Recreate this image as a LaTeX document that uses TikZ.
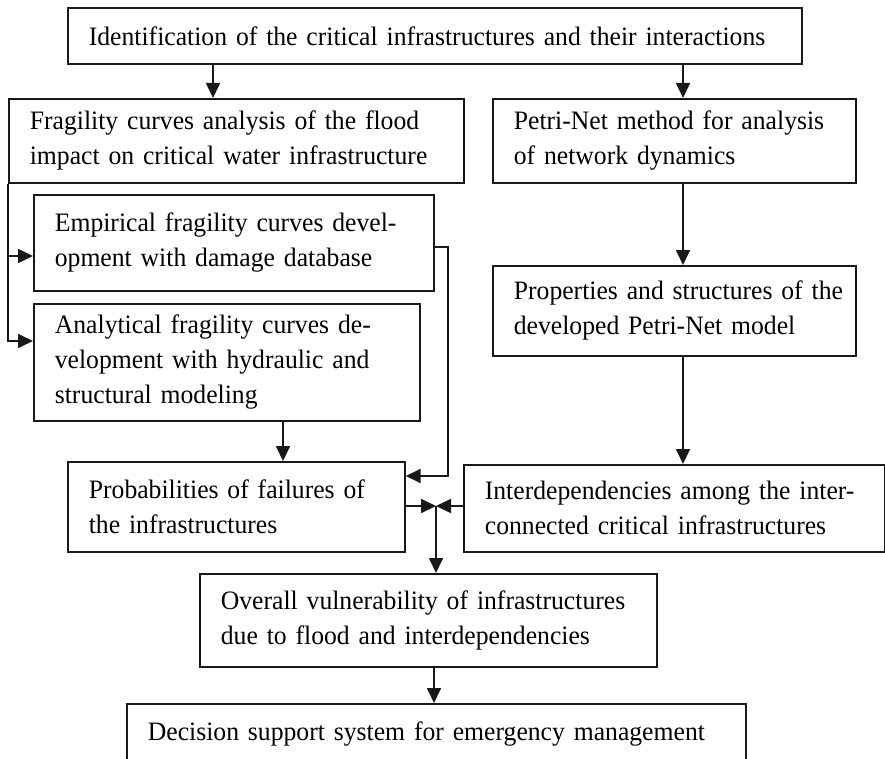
\documentclass[tikz,border=0pt]{standalone}
\usepackage{fontspec}
\setmainfont[FakeStretch=0.965]{Liberation Serif}
\usepackage{tikz}
\usetikzlibrary{
  positioning,
  arrows.meta
}
% full-width justified line
\newcommand{\jl}[1]{\makebox[\linewidth][s]{#1}}

\begin{document}
\begin{tikzpicture}[
  x=1pt, y=-1pt,
  font=\fontsize{26.6pt}{35pt}\selectfont,
  >={Triangle[length=15pt,width=14pt]},
  blk/.style={
    draw=black!90,
    line width=1.7pt,
    anchor=north west,
    align=left,
    inner xsep=21pt,
    inner ysep=2pt
  },
  arr/.style={->, line width=1.7pt, black!90},
  wire/.style={line width=1.7pt, black!90},
]
  \useasboundingbox (0,0) rectangle (885,759);

  % ========== boxes ==========
  \node[blk, text width=692pt, minimum height=56pt] (ident) at (67,7)
    {Identification of the critical infrastructures and their interactions};
  \node[blk, text width=413pt, minimum height=84pt] (frag) at (8,98)
    {Fragility curves analysis of the flood\\impact on critical water infrastructure};
  \node[blk, text width=321pt, minimum height=84pt] (petri) at (492,98)
    {\jl{Petri-Net method for analysis}\\of network dynamics};
  \node[blk, text width=358pt, minimum height=96pt] (emp) at (33,194)
    {\jl{Empirical fragility curves devel-}\\opment with damage database};
  \node[blk, text width=344pt, minimum height=117pt] (ana) at (33,303)
    {\jl{Analytical fragility curves de-}\\\jl{velopment with hydraulic and}\\structural modeling};
  \node[blk, text width=321pt, minimum height=90pt] (prop) at (492,265)
    {\jl{Properties and structures of the}\\developed Petri-Net model};
  \node[blk, text width=295pt, minimum height=90pt] (prob) at (67,461)
    {\jl{Probabilities of failures of}\\the infrastructures};
  \node[blk, text width=379pt, minimum height=87pt] (inter) at (463,464)
    {\jl{Interdependencies among the inter-}\\connected critical infrastructures};
  \node[blk, text width=415pt, minimum height=93pt] (over) at (199,573)
    {Overall vulnerability of infrastructures\\due to flood and interdependencies};
  \node[blk, text width=577pt, minimum height=60pt] (dec) at (126,703)
    {Decision support system for emergency management};

  % ========== columns ==========
  \coordinate (Ax) at (213,0);  % ident -> frag
  \coordinate (Rx) at (683,0);  % right column
  \draw[arr] (ident.south-|Ax) -- (frag.north-|Ax);
  \draw[arr] (ident.south-|Rx) -- (petri.north-|Rx);
  \draw[arr] (petri.south-|Rx) -- (prop.north-|Rx);
  \draw[arr] (prop.south-|Rx) -- (inter.north-|Rx);

  % ========== left bus: frag -> emp, ana ==========
  \coordinate (Ley) at (0,256);
  \coordinate (Lay) at (0,341);
  \draw[arr] (frag.south west) |- (ana.west|-Lay);
  \draw[arr] (frag.south west|-Ley) -- (emp.west|-Ley);

  % ========== emp, ana -> prob ==========
  \coordinate (E1) at (448,247);
  \coordinate (E2) at (448,476);
  \draw[arr] (emp.east|-E1) -- (E1) -- (E2) -- (prob.east|-E2);
  \coordinate (Px) at (283,0);
  \draw[arr] (ana.south-|Px) -- (prob.north-|Px);

  % ========== junction -> overall -> decision ==========
  \coordinate (J) at (436,506);
  \draw[arr] (prob.east|-J) -- (J);
  \draw[arr] (inter.west|-J) -- (J);
  \draw[arr] (J) -- (over.north-|J);
  \coordinate (Dx) at (434,0);
  \draw[arr] (over.south-|Dx) -- (dec.north-|Dx);
\end{tikzpicture}
\end{document}
